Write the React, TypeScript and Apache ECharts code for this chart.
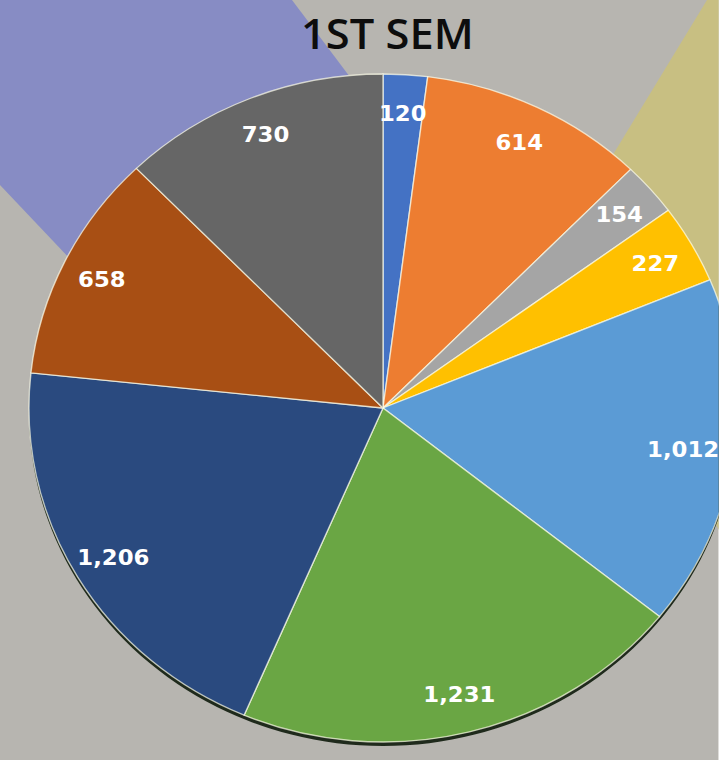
import React, { useEffect, useRef } from "react";
import * as echarts from "echarts";

const title = "1ST SEM";
const values = [120, 614, 154, 227, 1012, 1231, 1206, 658, 730];
const colors = ["#4472c4", "#ed7d31", "#a5a5a5", "#ffc000", "#5b9bd5", "#6aa644", "#2a4a7f", "#a84f14", "#666666"];

const SX = 1.06; // horizontal stretch of the reference picture
const W = 719 / SX;
const sx = (x: number) => x / SX;

export default function App() {
  const ref = useRef<HTMLDivElement>(null);
  useEffect(() => {
    if (!ref.current) return;
    const chart = echarts.init(ref.current, null, { renderer: "svg" });
    const cx = sx(383);
    const cy = 408;
    const R = 334;
    const data = values.map((v, i) => ({ value: v, name: String(i), itemStyle: { color: colors[i] } }));
    chart.setOption({
      animation: false,
      backgroundColor: "#b7b5b0",
      title: {
        text: title,
        left: sx(382),
        top: 7,
        textAlign: "center",
        textStyle: { fontFamily: "Open Sans", fontSize: 41, fontWeight: 600, color: "#0d0d0d" },
      },
      graphic: [
        {
          type: "polygon",
          z: -10,
          shape: { points: [[0, 0], [sx(292), 0], [sx(420), 170], [sx(90), 280], [0, 185]] },
          style: { fill: "#878cc4" },
        },
        {
          type: "polygon",
          z: -10,
          shape: { points: [[sx(707), 0], [W, 0], [W, 530], [sx(555), 250]] },
          style: { fill: "#c8bf82" },
        },
      ],
      series: [
        {
          type: "pie",
          center: [cx, cy + 4],
          radius: [0, R],
          silent: true,
          z: 1,
          label: { show: false },
          labelLine: { show: false },
          itemStyle: { color: "#1f2a1c", borderWidth: 0 },
          data: [{ value: 1, name: "shadow" }],
        },
        {
          type: "pie",
          center: [cx, cy],
          radius: [0, R],
          startAngle: 90,
          clockwise: true,
          silent: true,
          z: 2,
          label: { show: false },
          labelLine: { show: false },
          itemStyle: {
            borderColor: "rgba(255,255,235,0.7)",
            borderWidth: 1.3,
          },
          data,
        },
        {
          type: "pie",
          center: [cx, cy],
          radius: [252, 332],
          startAngle: 90,
          clockwise: true,
          silent: true,
          z: 3,
          itemStyle: { color: "rgba(0,0,0,0)" },
          label: {
            show: true,
            position: "inside",
            formatter: (p: any) => p.value.toLocaleString("en-US"),
            color: "#ffffff",
            fontFamily: "DejaVu Sans",
            fontWeight: "bold",
            fontSize: 21.5,
          },
          labelLine: { show: false },
          data: values.map((v, i) =>
            v === 1012
              ? { value: v, name: String(i), label: { padding: [0, 18, 0, 0] } }
              : { value: v, name: String(i) }
          ),
        },
      ],
    });
    return () => chart.dispose();
  }, []);
  return (
    <div style={{ position: "fixed", left: 0, top: 0, width: 719, height: 760, overflow: "hidden" }}>
      <div
        ref={ref}
        style={{ width: W, height: 760, transform: `scaleX(${SX})`, transformOrigin: "0 0" }}
      />
    </div>
  );
}
